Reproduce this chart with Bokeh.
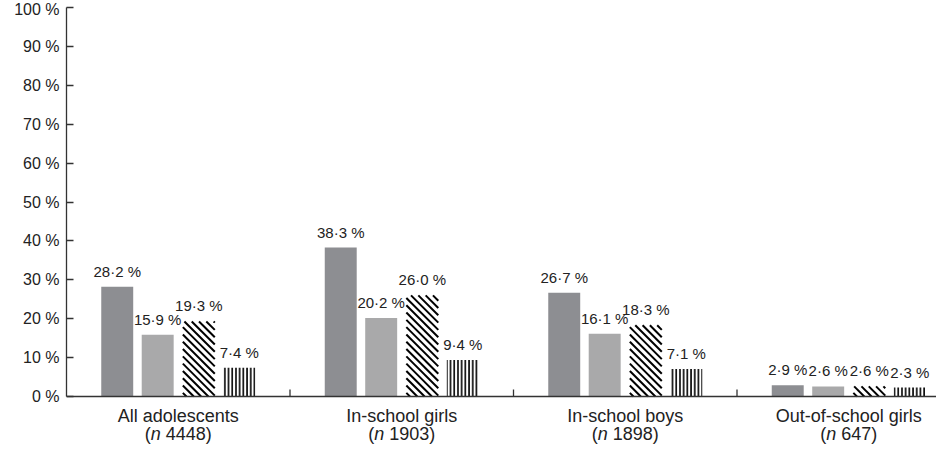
from bokeh.plotting import figure
from bokeh.models import Range1d, FixedTicker, ColumnDataSource, LabelSet, Span
from bokeh.core.properties import value
from bokeh.embed import file_html
from bokeh.resources import INLINE

groups = ["All adolescents", "In-school girls", "In-school boys", "Out-of-school girls"]
group_n = ["4448", "1903", "1898", "647"]
series_a = [28.2, 38.3, 26.7, 2.9]
series_b = [15.9, 20.2, 16.1, 2.6]
series_c = [19.3, 26.0, 18.3, 2.6]
series_d = [7.4, 9.4, 7.1, 2.3]
y_ticks = [0, 10, 20, 30, 40, 50, 60, 70, 80, 90, 100]

FONT = "Liberation Sans"
AXIS_COLOR = "#333333"
TEXT_COLOR = "#222222"

W, H = 936, 445
LEFT = 66
TOP = 7           # canvas px of 100 %
ZERO = 396        # canvas px of 0 %
GROUP_PX = 223.5  # width of one group in px
X_END = (W - LEFT) / GROUP_PX
ypx = (ZERO - TOP) / 100.0
xpx = GROUP_PX
y_min = -(H - ZERO) / ypx

p = figure(width=W, height=H, output_backend="svg", toolbar_location=None,
           x_range=Range1d(0, X_END), y_range=Range1d(y_min, 100),
           x_axis_location=None,
           min_border_left=LEFT, min_border_top=TOP, min_border_bottom=0, min_border_right=0)
p.outline_line_color = None
p.xgrid.visible = False
p.ygrid.visible = False
p.background_fill_color = "white"
p.border_fill_color = "white"

# y axis
ya = p.yaxis[0]
ya.bounds = (0, 100)
ya.ticker = FixedTicker(ticks=y_ticks, minor_ticks=[])
ya.major_label_overrides = {t: f"{t} %" for t in y_ticks}
ya.major_tick_in = 7
ya.major_tick_out = 0
ya.minor_tick_line_color = None
ya.axis_line_color = AXIS_COLOR
ya.major_tick_line_color = AXIS_COLOR
ya.axis_line_width = 1.3
ya.major_tick_line_width = 1.3
ya.major_label_text_font = FONT
ya.major_label_text_font_size = "16px"
ya.major_label_text_color = TEXT_COLOR
ya.major_label_standoff = 7

offsets = [-0.273, -0.092, 0.092, 0.273]
bar_w = 0.143
series = [series_a, series_b, series_c, series_d]
styles = [
    dict(fill_color="#8d8e92", line_color=None),
    dict(fill_color="#a9a9aa", line_color=None),
    dict(fill_color="white", line_color=None),
    dict(fill_color="white", line_color=None, hatch_pattern="vertical_line",
         hatch_color="black", hatch_scale=3.7, hatch_weight=1.6),
]

def fmt(v):
    return f"{v:.1f}".replace(".", "\u00b7") + " %"

def diag_hatch(xcs, tops, spacing=7.3):
    """45-degree '\\' hatch lines clipped to each bar (computed in data units)."""
    x0s, y0s, x1s, y1s = [], [], [], []
    w = bar_w * xpx
    for xc, top in zip(xcs, tops):
        h = top * ypx
        xl = xc - bar_w / 2
        c = spacing * 0.5
        while c < w + h:
            u0 = max(0.0, c - h)
            u1 = min(w, c)
            if u1 > u0:
                x0s.append(xl + u0 / xpx); y0s.append((c - u0) / ypx)
                x1s.append(xl + u1 / xpx); y1s.append((c - u1) / ypx)
            c += spacing
    return x0s, y0s, x1s, y1s

for k, (vals, off, st) in enumerate(zip(series, offsets, styles)):
    xs = [i + 0.5 + off for i in range(len(groups))]
    src = ColumnDataSource(dict(x=xs, top=vals, label=[fmt(v) for v in vals]))
    p.vbar(x="x", top="top", bottom=0, width=bar_w, source=src, **st)
    if k == 2:
        x0s, y0s, x1s, y1s = diag_hatch(xs, vals)
        p.segment(x0=x0s, y0=y0s, x1=x1s, y1=y1s, line_color="black", line_width=2)
    p.add_layout(LabelSet(x="x", y="top", text="label", source=src, y_offset=10,
                          text_align="center", text_baseline="alphabetic",
                          text_font=value(FONT), text_font_size="15px",
                          text_color=TEXT_COLOR))

# x axis baseline and boundary ticks
p.add_layout(Span(location=0, dimension="width", line_color=AXIS_COLOR, line_width=1.3))
bounds = list(range(1, len(groups)))
p.segment(x0=bounds, y0=[0] * len(bounds), x1=bounds, y1=[7 / ypx] * len(bounds),
          line_color=AXIS_COLOR, line_width=1.3)

# category labels (two lines, italic n)
CAT_SIZE = 18
em = CAT_SIZE
centers = [i + 0.5 for i in range(len(groups))]
zeros = [0] * len(groups)
w_open = 0.333 * em
w_n = 0.556 * em
w_sp = 0.278 * em
lefts = []
for n in group_n:
    total = w_open + w_n + w_sp + (0.556 * len(n) + 0.333) * em
    lefts.append(-total / 2)

cat_src = ColumnDataSource(dict(
    x=centers, y=zeros, name=groups,
    open=["("] * len(groups), nn=["n"] * len(groups), num=[f"{n})" for n in group_n],
    off_open=lefts,
    off_n=[l + w_open for l in lefts],
    off_num=[l + w_open + w_n + w_sp for l in lefts],
))
common = dict(source=cat_src, text_baseline="alphabetic", text_font=value(FONT),
              text_font_size=f"{CAT_SIZE}px", text_color=TEXT_COLOR)
p.add_layout(LabelSet(x="x", y="y", text="name", y_offset=-25, text_align="center", **common))
p.add_layout(LabelSet(x="x", y="y", text="open", x_offset="off_open", y_offset=-43,
                      text_align="left", **common))
p.add_layout(LabelSet(x="x", y="y", text="nn", x_offset="off_n", y_offset=-43,
                      text_align="left", text_font_style="italic", **common))
p.add_layout(LabelSet(x="x", y="y", text="num", x_offset="off_num", y_offset=-43,
                      text_align="left", **common))

open("out.html", "w").write(file_html(p, INLINE))
